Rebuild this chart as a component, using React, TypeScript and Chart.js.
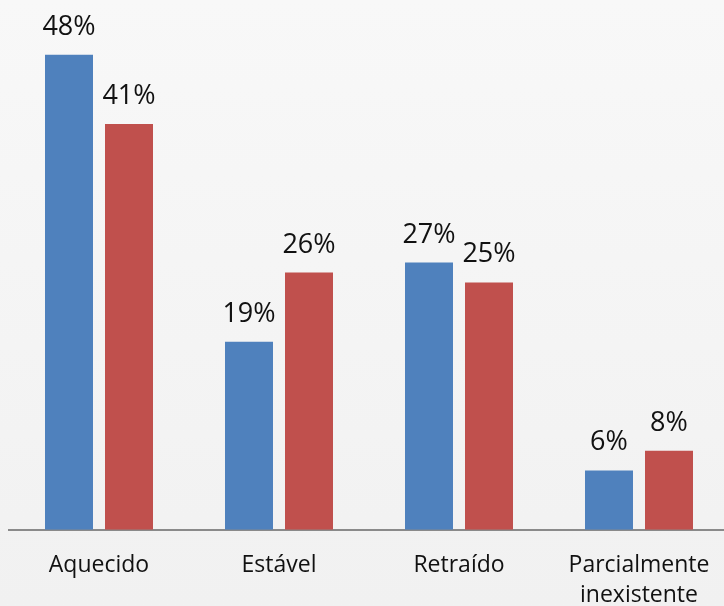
import React, { useEffect, useRef } from "react";
import { Chart, registerables } from "chart.js";

Chart.register(...registerables);

const categories: (string | string[])[] = ["Aquecido", "Estável", "Retraído", ["Parcialmente", "inexistente"]];
const seriesA: number[] = [48, 19, 27, 6];
const seriesB: number[] = [41, 26, 25, 8];
const seriesNames: string[] = ["Série 1", "Série 2"];
const seriesColors: string[] = ["#4F81BD", "#C0504D"];

const FONT = "'Open Sans', sans-serif";

const dataLabelPlugin = {
  id: "dataLabels",
  afterDatasetsDraw(chart: any) {
    const ctx = chart.ctx;
    ctx.save();
    ctx.font = `27px ${FONT}`;
    ctx.fillStyle = "#111";
    ctx.textAlign = "center";
    ctx.textBaseline = "alphabetic";
    chart.data.datasets.forEach((ds: any, di: number) => {
      const meta = chart.getDatasetMeta(di);
      meta.data.forEach((bar: any, i: number) => {
        ctx.fillText(`${ds.data[i]}%`, bar.x, bar.y - 20);
      });
    });
    ctx.restore();
  },
};

export default function App() {
  const ref = useRef<HTMLCanvasElement | null>(null);
  useEffect(() => {
    if (!ref.current) return;
    const chart = new Chart(ref.current, {
      type: "bar",
      data: {
        labels: categories,
        datasets: [
          { label: seriesNames[0], data: seriesA, backgroundColor: seriesColors[0] },
          { label: seriesNames[1], data: seriesB, backgroundColor: seriesColors[1] },
        ],
      },
      options: {
        responsive: false,
        animation: false,
        categoryPercentage: 0.6667,
        barPercentage: 0.8,
        layout: { padding: { left: 9, right: 11, top: 35, bottom: 11 } },
        plugins: { legend: { display: false }, tooltip: { enabled: false } },
        scales: {
          x: {
            grid: { display: false, drawTicks: false },
            border: { display: true, color: "#8a8a8a", width: 2 },
            ticks: {
              padding: 20,
              color: "#111",
              font: { family: FONT, size: 23, lineHeight: 1.33 },
              maxRotation: 0,
              autoSkip: false,
            },
          },
          y: { display: false, min: 0, max: 50 },
        },
      },
      plugins: [dataLabelPlugin],
    } as any);
    return () => chart.destroy();
  }, []);
  return (
    <div
      style={{
        position: "fixed",
        left: 0,
        top: 0,
        width: 724,
        height: 606,
        overflow: "hidden",
        background: "linear-gradient(#f8f8f8, #f1f1f1)",
      }}
    >
      <canvas ref={ref} width={740} height={642} style={{ display: "block" }} />
    </div>
  );
}
